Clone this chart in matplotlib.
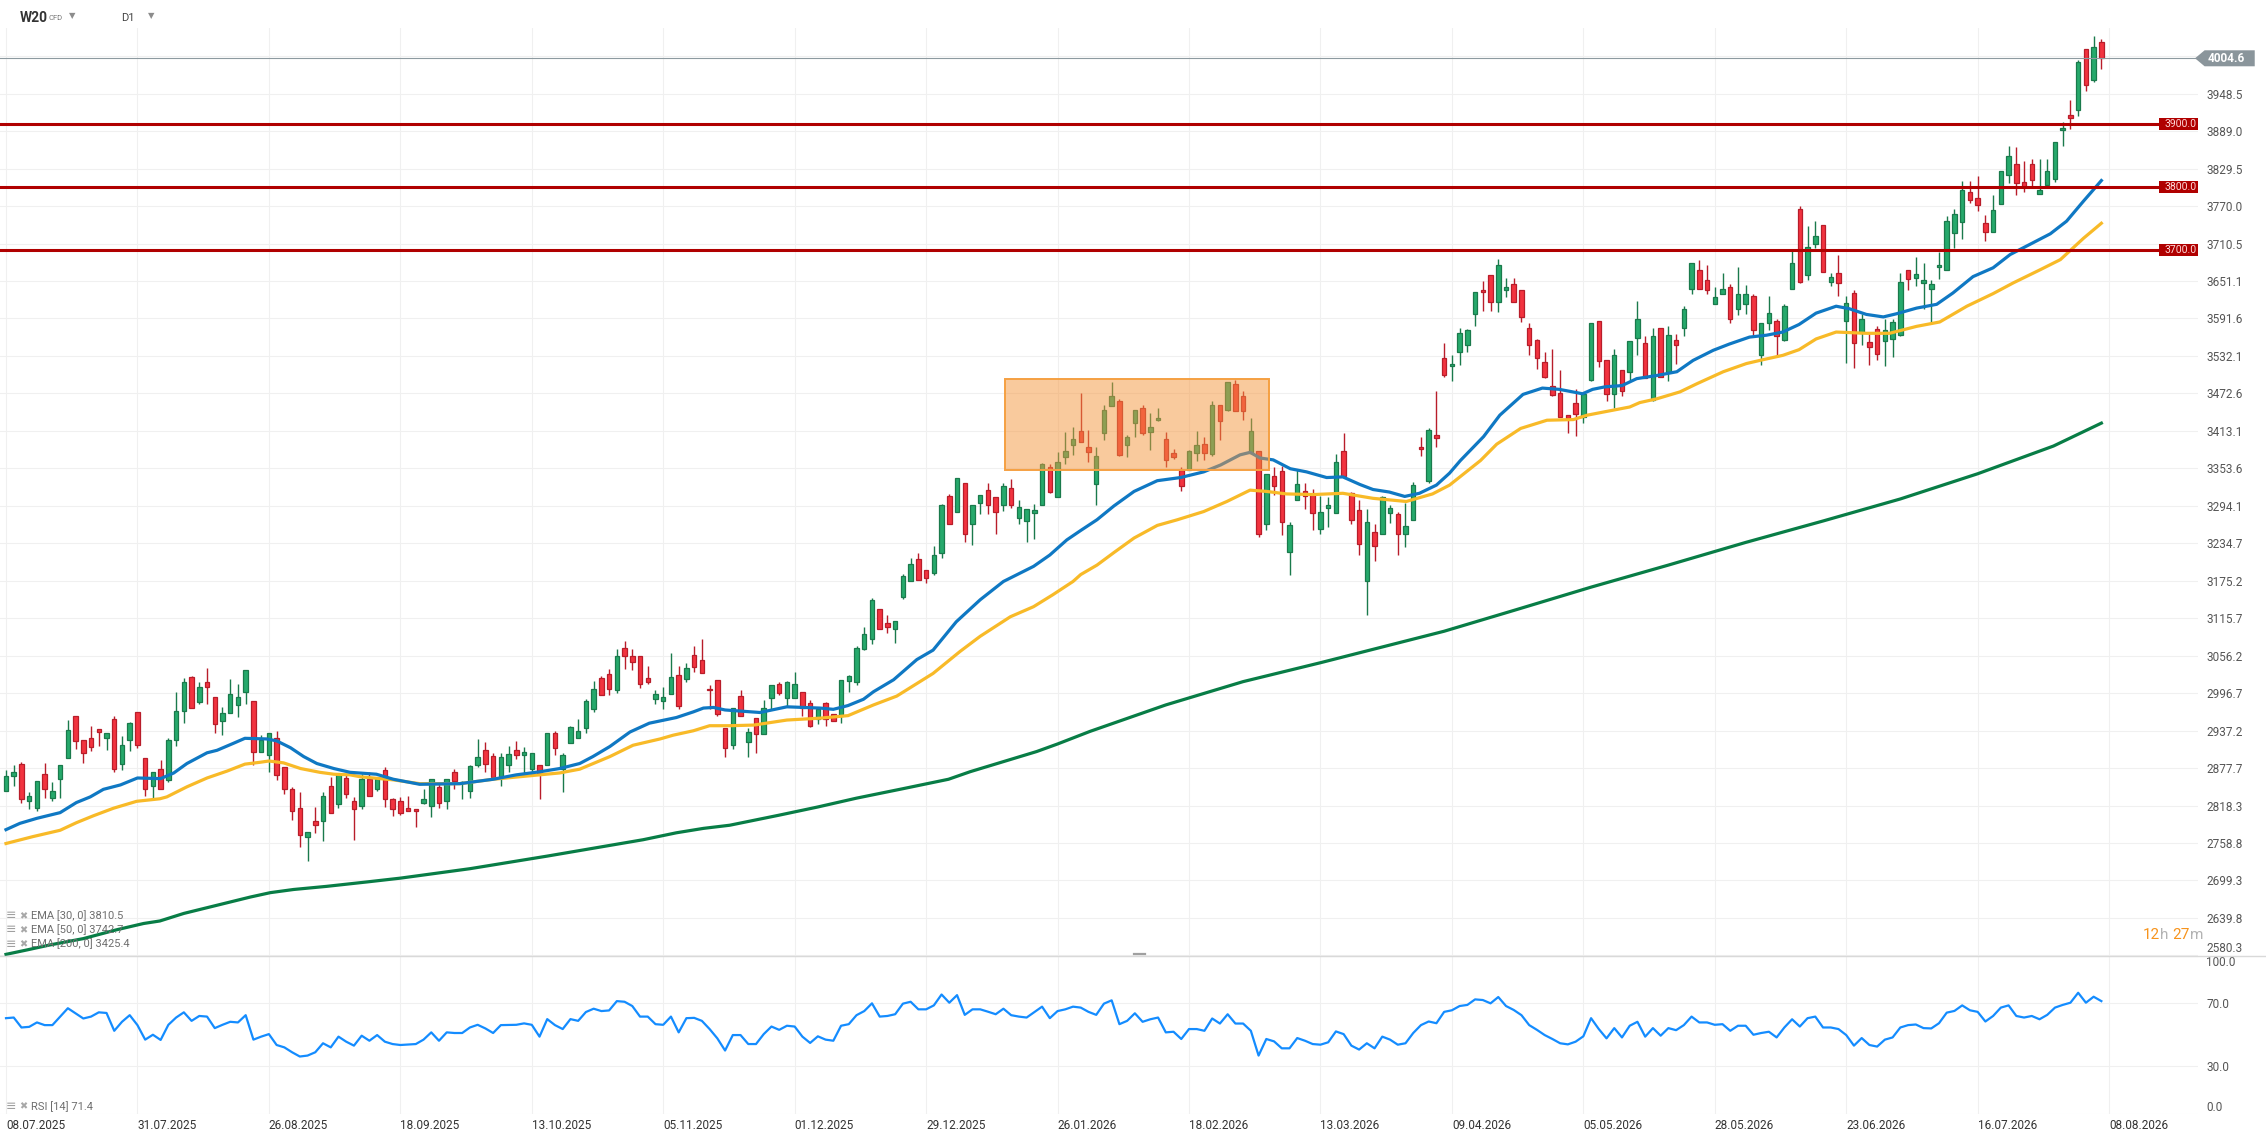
import matplotlib
matplotlib.use("Agg")
import matplotlib.pyplot as plt
import matplotlib.transforms as mtransforms
from matplotlib.patches import Rectangle, Polygon
from matplotlib.lines import Line2D

plt.rcParams['font.family'] = ['Roboto', 'DejaVu Sans']

# daily candles, one per trading day (index 0 = 08.07.2025)
opens = [2842, 2865, 2884, 2825, 2814, 2869, 2830, 2861, 2893, 2960,
         2922, 2926, 2939, 2925, 2955, 2885, 2923, 2966, 2893, 2849,
         2876, 2859, 2923, 2968, 3022, 2983, 3015, 2990, 2952, 2965,
         2978, 2998, 2985, 2904, 2899, 2926, 2879, 2845, 2815, 2769,
         2793, 2794, 2849, 2820, 2862, 2826, 2818, 2861, 2844, 2874,
         2828, 2825, 2815, 2813, 2822, 2818, 2848, 2826, 2872, 2855,
         2842, 2883, 2906, 2897, 2862, 2882, 2907, 2899, 2877, 2882,
         2882, 2933, 2877, 2918, 2925, 2942, 2971, 3020, 3027, 3001,
         3068, 3055, 3055, 3020, 2988, 2985, 2996, 3025, 3019, 3057,
         3049, 3004, 3017, 2941, 2914, 2992, 2919, 2958, 2932, 2989,
         3011, 2989, 2989, 2999, 2981, 2955, 2981, 2963, 2960, 3016,
         3014, 3067, 3082, 3130, 3108, 3098, 3150, 3174, 3209, 3193,
         3187, 3219, 3309, 3284, 3331, 3265, 3298, 3319, 3308, 3295,
         3322, 3274, 3270, 3283, 3296, 3355, 3308, 3371, 3390, 3413,
         3387, 3328, 3409, 3452, 3461, 3390, 3425, 3450, 3412, 3430,
         3400, 3378, 3351, 3351, 3378, 3392, 3377, 3454, 3446, 3488,
         3469, 3378, 3381, 3265, 3341, 3349, 3220, 3304, 3317, 3312,
         3258, 3290, 3282, 3381, 3314, 3287, 3174, 3252, 3249, 3282,
         3281, 3249, 3271, 3387, 3333, 3406, 3528, 3516, 3539, 3550,
         3599, 3636, 3660, 3617, 3637, 3647, 3636, 3576, 3557, 3523,
         3485, 3474, 3439, 3458, 3435, 3494, 3588, 3525, 3472, 3510,
         3506, 3560, 3553, 3462, 3576, 3506, 3557, 3576, 3638, 3669,
         3652, 3614, 3630, 3641, 3607, 3614, 3628, 3534, 3585, 3587,
         3558, 3639, 3766, 3660, 3710, 3740, 3650, 3664, 3587, 3632,
         3568, 3554, 3575, 3555, 3559, 3566, 3669, 3656, 3648, 3638,
         3673, 3668, 3727, 3744, 3792, 3783, 3743, 3729, 3773, 3819,
         3837, 3808, 3837, 3789, 3804, 3813, 3891, 3915, 3923, 4020,
         3970, 4031]
highs = [2875, 2883, 2887, 2840, 2857, 2886, 2856, 2882, 2954, 2960,
         2922, 2944, 2939, 2933, 2960, 2929, 2951, 2966, 2893, 2871,
         2890, 2925, 2998, 3020, 3024, 3014, 3036, 2990, 2974, 3019,
         3011, 3034, 2985, 2930, 2933, 2937, 2879, 2848, 2840, 2777,
         2816, 2840, 2864, 2869, 2869, 2832, 2868, 2872, 2864, 2880,
         2831, 2832, 2833, 2813, 2844, 2860, 2852, 2861, 2877, 2857,
         2882, 2924, 2919, 2901, 2901, 2913, 2921, 2911, 2902, 2882,
         2933, 2936, 2901, 2944, 2956, 2988, 3016, 3024, 3035, 3067,
         3080, 3067, 3055, 3040, 3001, 3006, 3060, 3040, 3045, 3072,
         3083, 3009, 3017, 2941, 2973, 3002, 2941, 2958, 2986, 3009,
         3015, 3016, 3030, 2999, 2986, 2971, 2983, 2963, 3018, 3026,
         3072, 3101, 3148, 3130, 3121, 3112, 3186, 3211, 3219, 3193,
         3230, 3297, 3313, 3338, 3331, 3295, 3311, 3330, 3308, 3330,
         3337, 3304, 3289, 3297, 3362, 3360, 3379, 3411, 3419, 3473,
         3415, 3387, 3454, 3490, 3463, 3406, 3446, 3454, 3441, 3450,
         3411, 3384, 3355, 3383, 3413, 3403, 3461, 3454, 3490, 3494,
         3476, 3434, 3381, 3344, 3356, 3357, 3269, 3351, 3331, 3321,
         3309, 3308, 3376, 3409, 3316, 3303, 3289, 3265, 3309, 3295,
         3285, 3298, 3332, 3403, 3417, 3476, 3552, 3533, 3577, 3575,
         3634, 3651, 3660, 3686, 3655, 3655, 3636, 3584, 3559, 3538,
         3543, 3509, 3439, 3480, 3472, 3584, 3588, 3525, 3543, 3510,
         3555, 3620, 3564, 3576, 3576, 3579, 3567, 3611, 3680, 3684,
         3677, 3642, 3663, 3646, 3674, 3644, 3630, 3584, 3628, 3590,
         3614, 3701, 3770, 3738, 3746, 3740, 3663, 3693, 3627, 3636,
         3598, 3568, 3579, 3591, 3591, 3664, 3669, 3689, 3679, 3652,
         3697, 3755, 3766, 3809, 3810, 3818, 3756, 3788, 3826, 3866,
         3863, 3842, 3844, 3845, 3845, 3872, 3904, 3938, 4002, 4020,
         4040, 4036]
lows = [2842, 2850, 2823, 2812, 2810, 2831, 2826, 2831, 2893, 2908,
        2886, 2905, 2913, 2907, 2872, 2875, 2905, 2910, 2834, 2831,
        2844, 2856, 2913, 2950, 2973, 2980, 2980, 2934, 2931, 2965,
        2959, 2980, 2882, 2904, 2872, 2859, 2836, 2796, 2753, 2731,
        2775, 2762, 2806, 2815, 2830, 2764, 2813, 2834, 2842, 2816,
        2802, 2804, 2809, 2784, 2820, 2800, 2814, 2813, 2844, 2829,
        2830, 2880, 2871, 2860, 2850, 2871, 2892, 2869, 2869, 2829,
        2882, 2898, 2839, 2918, 2925, 2933, 2967, 2993, 2993, 2997,
        3035, 3033, 3005, 3012, 2979, 2972, 2996, 2971, 3015, 3030,
        3028, 2971, 2960, 2896, 2908, 2960, 2896, 2901, 2932, 2971,
        2994, 2975, 2989, 2961, 2943, 2948, 2945, 2952, 2950, 2998,
        3010, 3065, 3074, 3098, 3092, 3077, 3146, 3174, 3176, 3172,
        3184, 3212, 3266, 3284, 3236, 3232, 3281, 3281, 3250, 3286,
        3291, 3266, 3236, 3242, 3296, 3315, 3308, 3361, 3374, 3396,
        3363, 3296, 3399, 3452, 3373, 3372, 3404, 3406, 3383, 3429,
        3355, 3368, 3318, 3351, 3365, 3367, 3373, 3398, 3444, 3444,
        3430, 3378, 3245, 3255, 3311, 3248, 3185, 3304, 3289, 3255,
        3250, 3261, 3282, 3341, 3266, 3216, 3121, 3207, 3249, 3267,
        3216, 3228, 3271, 3373, 3330, 3388, 3499, 3492, 3518, 3538,
        3580, 3604, 3604, 3602, 3626, 3618, 3586, 3534, 3511, 3497,
        3469, 3435, 3409, 3405, 3426, 3492, 3515, 3461, 3450, 3469,
        3494, 3534, 3497, 3461, 3498, 3492, 3520, 3564, 3631, 3638,
        3631, 3614, 3630, 3585, 3597, 3599, 3566, 3518, 3573, 3530,
        3556, 3639, 3648, 3653, 3704, 3665, 3643, 3628, 3521, 3513,
        3550, 3518, 3526, 3516, 3531, 3564, 3636, 3643, 3606, 3582,
        3654, 3668, 3704, 3718, 3775, 3762, 3714, 3729, 3773, 3806,
        3787, 3792, 3801, 3789, 3804, 3808, 3865, 3892, 3913, 3953,
        3967, 3987]
closes = [2865, 2871, 2828, 2834, 2857, 2844, 2842, 2882, 2938, 2920,
          2901, 2911, 2935, 2933, 2876, 2915, 2949, 2915, 2844, 2871,
          2844, 2923, 2968, 3014, 2973, 3006, 3007, 2947, 2965, 2996,
          2990, 3034, 2903, 2922, 2933, 2866, 2844, 2809, 2772, 2777,
          2788, 2834, 2806, 2869, 2836, 2812, 2860, 2834, 2860, 2828,
          2812, 2807, 2810, 2810, 2829, 2860, 2822, 2861, 2857, 2856,
          2881, 2895, 2885, 2864, 2895, 2900, 2899, 2904, 2902, 2868,
          2933, 2909, 2898, 2943, 2936, 2984, 3004, 2993, 3004, 3055,
          3055, 3046, 3012, 3014, 2995, 2990, 3023, 2976, 3036, 3038,
          3028, 3001, 2963, 2910, 2973, 2961, 2935, 2932, 2973, 3009,
          2997, 3014, 3011, 2973, 2944, 2971, 2955, 2952, 3018, 3024,
          3068, 3090, 3144, 3098, 3102, 3112, 3183, 3201, 3176, 3179,
          3216, 3295, 3266, 3338, 3250, 3295, 3311, 3296, 3284, 3325,
          3296, 3292, 3289, 3287, 3360, 3316, 3363, 3381, 3400, 3396,
          3379, 3373, 3447, 3469, 3375, 3404, 3446, 3409, 3420, 3433,
          3367, 3371, 3326, 3381, 3390, 3378, 3454, 3428, 3490, 3444,
          3444, 3413, 3250, 3344, 3326, 3269, 3264, 3328, 3309, 3283,
          3285, 3296, 3363, 3341, 3272, 3233, 3268, 3231, 3308, 3290,
          3250, 3262, 3327, 3384, 3415, 3401, 3502, 3520, 3569, 3573,
          3634, 3633, 3618, 3677, 3642, 3618, 3594, 3549, 3528, 3499,
          3470, 3435, 3433, 3440, 3472, 3584, 3524, 3472, 3533, 3477,
          3555, 3591, 3497, 3564, 3498, 3566, 3549, 3606, 3680, 3638,
          3636, 3626, 3638, 3590, 3631, 3631, 3574, 3584, 3601, 3563,
          3612, 3680, 3649, 3705, 3723, 3665, 3658, 3648, 3616, 3553,
          3591, 3546, 3535, 3573, 3586, 3650, 3654, 3662, 3652, 3647,
          3677, 3747, 3758, 3796, 3779, 3771, 3729, 3764, 3826, 3850,
          3807, 3800, 3811, 3796, 3826, 3872, 3894, 3910, 3999, 3962,
          4023, 4004.6]

# moving averages (bar index, value)
ema30_x = [0, 1.8, 4.0, 7.0, 9.1, 10.9, 12.6, 14.8, 17.0, 20.0, 21.7, 23.4, 26.0, 27.3,
           29.4, 30.9, 33.7, 35.0, 36.8, 38.5, 40.2, 42.4, 44.5, 47.9, 50.1, 53.5, 58.7,
           63.0, 66.0, 69.1, 71.6, 74.2, 75.9, 78.1, 80.7, 83.2, 86.7, 88.9, 90.2, 91.5,
           93.0, 94.1, 97.5, 101.0, 105.3, 107.0, 108.9, 110.9, 112.2, 114.8, 117.8, 119.9,
           122.9, 126.0, 129.0, 132.9, 135.0, 137.2, 139.0, 141.1, 143.3, 145.9, 148.9,
           151.9, 154.9, 157.1, 159.6, 160.9, 162.2, 163.9, 166.1, 168.2, 170.8, 172.9,
           175.1, 176.8, 178.9, 180.9, 182.8, 185.0, 186.7, 188.1, 191.1, 193.2, 196.2,
           198.7, 200.9, 203.9, 205.2, 206.8, 209.0, 210.9, 213.5, 216.1, 218.2, 220.8,
           222.9, 225.5, 227.7, 229.8, 231.9, 234.1, 236.7, 238.4, 240.6, 242.8, 244.5,
           247.1, 249.7, 251.8, 254.4, 257.0, 259.2, 262.2, 264.4, 266.5, 268.7, 271]
ema30_y = [2780, 2790, 2798, 2807, 2823, 2832, 2844, 2851, 2862, 2861, 2870, 2885, 2902, 2906,
           2917, 2925, 2924, 2921, 2910, 2896, 2885, 2877, 2871, 2868, 2860, 2852, 2853,
           2860, 2867, 2872, 2877, 2885, 2896, 2912, 2935, 2949, 2958, 2967, 2973, 2974,
           2970, 2969, 2966, 2975, 2973, 2971, 2977, 2987, 2999, 3018, 3050, 3065,
           3110, 3145, 3174, 3198, 3216, 3240, 3255, 3272, 3294, 3317, 3334,
           3339, 3348, 3359, 3375, 3379, 3370, 3367, 3353, 3348, 3339, 3340,
           3328, 3320, 3316, 3309, 3314, 3327, 3346, 3366, 3404, 3438, 3471,
           3481, 3479, 3472, 3479, 3483, 3485, 3496, 3501, 3507, 3525, 3541,
           3551, 3562, 3565, 3570, 3582, 3600, 3611, 3607, 3598, 3594, 3599,
           3608, 3614, 3632, 3658, 3672, 3693, 3712, 3726, 3746, 3778, 3810.5]
ema50_x = [0, 3.5, 7.0, 9.1, 11.3, 13.9, 16.9, 19.9, 20.8, 23.4, 26.0, 28.6, 30.9, 32.9, 34.0,
           35.9, 38.1, 40.6, 42.4, 44.5, 45.8, 50.1, 53.5, 58.7, 63.0, 67.3, 71.6, 74.2,
           78.1, 81.1, 84.6, 86.3, 88.9, 91.0, 93.6, 96.7, 101.0, 105.3, 108.9, 112.2, 115.2,
           119.9, 123.4, 126.0, 129.9, 132.9, 135.4, 138.0, 139.0, 141.1, 143.3, 145.9, 148.9,
           151.5, 154.9, 157.9, 160.9, 163.0, 165.6, 169.1, 172.9, 176.8, 181.1, 184.5, 186.7,
           190.7, 192.8, 195.9, 199.3, 202.7, 204.5, 206.6, 210.0, 211.3, 213.5, 216.5, 218.7,
           222.1, 225.1, 227.2, 229.8, 231.9, 234.1, 236.7, 240.6, 243.6, 247.1, 250.1, 253.6,
           257.0, 259.6, 263.1, 265.7, 268.7, 271]
ema50_y = [2758, 2769, 2779, 2791, 2802, 2814, 2825, 2829, 2832, 2848, 2862, 2873, 2884, 2887, 2889,
           2886, 2877, 2871, 2868, 2867, 2864, 2859, 2853, 2853, 2860, 2865, 2870, 2876,
           2896, 2914, 2924, 2930, 2937, 2945, 2945, 2946, 2954, 2957, 2961, 2978, 2992,
           3028, 3063, 3087, 3118, 3134, 3153, 3174, 3185, 3200, 3220, 3243, 3263,
           3272, 3285, 3301, 3319, 3317, 3313, 3312, 3314, 3306, 3301, 3313, 3327,
           3366, 3392, 3417, 3430, 3431, 3438, 3443, 3451, 3458, 3464, 3475, 3488,
           3507, 3520, 3526, 3533, 3542, 3559, 3570, 3568, 3568, 3579, 3586, 3611,
           3631, 3648, 3669, 3685, 3719, 3742.7]
ema200_x = [0, 2.7, 5.7, 10.0, 14.3, 17.8, 19.9, 23.0, 27.3, 31.6, 34.2, 37.2, 41.5, 46.7, 51.0,
            60, 70, 82.4, 86.7, 90.2, 93.6, 100, 105, 110, 116, 121.9, 124.7, 129.0, 133.3,
            136.0, 140.2, 150, 160, 170, 178, 186, 195, 205, 215, 225, 235, 245, 255, 264.8, 271]
ema200_y = [2582, 2589, 2597, 2607, 2621, 2631, 2635, 2647, 2660, 2673, 2680, 2685, 2690, 2697, 2703,
            2718, 2738, 2764, 2775, 2782, 2787, 2803, 2816, 2830, 2845, 2860, 2872, 2888, 2904,
            2916, 2936, 2978, 3015, 3045, 3070, 3095, 3128, 3165, 3200, 3236, 3270, 3305, 3345,
            3389, 3425.4]

# RSI(14) (bar index, value)
rsi_bars = [0, 1, 2, 3, 4, 5, 6, 8, 10, 11, 12, 13, 14, 15, 16, 17, 18, 19, 20, 21, 22, 23, 24,
            25, 26, 27, 28, 29, 30, 31, 32, 33, 34, 35, 36, 37, 38, 39, 40, 41, 42, 43, 44, 45,
            46, 47, 48, 49, 50, 51, 53, 54, 55, 56, 57, 58, 59, 60, 61, 62, 63, 64, 66, 67, 68,
            69, 70, 71, 72, 73, 74, 75, 76, 77, 78, 79, 80, 81, 82, 83, 84, 85, 86, 87, 88, 89,
            90, 91, 92, 93, 94, 95, 96, 97, 98, 99, 100, 101, 102, 103, 104, 105, 106, 107, 108,
            109, 110, 111, 112, 113, 114, 115, 116, 117, 118, 119, 120, 121, 122, 123, 124, 125,
            126, 127, 128, 129, 130, 131, 132, 134, 135, 136, 137, 138, 139, 140, 141, 142, 143,
            144, 145, 146, 147, 148, 149, 150, 151, 152, 153, 154, 155, 156, 157, 158, 159, 160,
            161, 162, 163, 164, 165, 166, 167, 168, 169, 170, 171, 172, 173, 174, 175, 176, 177,
            178, 179, 180, 181, 182, 183, 184, 185, 186, 187, 188, 189, 190, 191, 192, 193, 194,
            195, 196, 197, 198, 199, 200, 201, 202, 203, 204, 205, 206, 207, 208, 209, 210, 211,
            212, 213, 214, 215, 216, 217, 218, 219, 220, 221, 222, 223, 224, 225, 226, 227, 228,
            229, 230, 231, 232, 233, 234, 235, 236, 237, 238, 239, 240, 241, 242, 243, 244, 245,
            246, 247, 248, 249, 250, 251, 252, 253, 254, 255, 256, 257, 258, 259, 260, 261, 262,
            263, 264, 265, 266, 267, 268, 269, 270, 271]
rsi_vals = [60.6, 61.0, 54.7, 55.1, 57.9, 56.2, 56.2, 66.9, 60.4, 61.6, 64.3, 63.9, 52.6, 58.3, 62.5,
            56.2, 47.0, 50.1, 46.8, 56.4, 61.0, 64.3, 58.9, 62.0, 61.6, 54.3, 56.4, 58.3, 57.9,
            62.5, 47.0, 48.9, 50.5, 43.6, 42.1, 39.0, 36.3, 36.9, 39.0, 44.7, 42.1, 48.9, 45.7,
            43.2, 49.5, 46.3, 49.9, 45.7, 44.2, 43.6, 44.2, 47.0, 51.6, 46.3, 51.6, 51.2, 51.2,
            54.7, 56.4, 54.1, 51.2, 56.2, 56.4, 57.3, 56.4, 48.9, 60.0, 56.2, 53.7, 60.0, 58.9,
            64.5, 66.6, 65.1, 65.5, 71.4, 71.0, 68.3, 61.6, 61.6, 56.8, 56.4, 61.6, 51.6, 60.6,
            60.8, 58.9, 53.7, 47.8, 40.1, 49.9, 49.9, 44.2, 44.2, 50.5, 55.3, 53.2, 55.8, 55.3,
            48.9, 44.9, 49.1, 47.0, 46.3, 55.8, 56.8, 62.5, 65.1, 70.0, 61.6, 62.0, 63.1, 69.8,
            71.0, 66.2, 66.2, 68.7, 75.6, 70.4, 75.2, 62.7, 66.2, 66.2, 64.7, 63.1, 66.6, 62.5,
            61.6, 61.0, 67.9, 60.6, 65.1, 66.2, 67.9, 67.3, 64.6, 62.7, 69.8, 71.9, 56.8, 58.9,
            63.7, 58.3, 59.9, 61.0, 51.6, 52.0, 47.4, 53.7, 53.7, 52.6, 60.4, 57.2, 63.1, 57.2,
            57.2, 52.6, 36.9, 47.4, 45.9, 41.5, 41.5, 48.0, 46.3, 44.2, 43.8, 45.3, 52.2, 50.5,
            43.2, 40.7, 44.7, 41.5, 48.9, 47.0, 43.8, 44.7, 51.2, 56.2, 58.5, 57.4, 64.6, 65.6,
            68.3, 69.0, 72.5, 72.1, 70.0, 74.0, 68.3, 65.8, 62.5, 56.2, 53.2, 49.9, 47.4, 44.7,
            44.0, 45.7, 49.1, 60.6, 53.7, 47.8, 54.3, 48.4, 55.8, 58.3, 48.9, 54.3, 49.5, 54.3,
            53.0, 56.2, 61.6, 57.9, 57.9, 56.4, 56.8, 52.6, 55.8, 55.8, 50.1, 51.2, 52.0, 48.4,
            54.7, 59.9, 55.3, 60.6, 61.6, 54.7, 54.7, 53.7, 49.9, 43.2, 48.0, 43.6, 42.6, 47.0,
            48.4, 54.7, 56.2, 56.6, 54.3, 54.1, 57.4, 64.1, 65.2, 68.7, 65.6, 64.6, 58.5, 62.0,
            67.3, 68.7, 62.0, 61.0, 62.0, 59.9, 62.7, 67.3, 69.0, 70.4, 76.7, 70.4, 74.2, 71.4]

date_labels = ['08.07.2025', '31.07.2025', '26.08.2025', '18.09.2025', '13.10.2025',
               '05.11.2025', '01.12.2025', '29.12.2025', '26.01.2026', '18.02.2026',
               '13.03.2026', '09.04.2026', '05.05.2026', '28.05.2026', '23.06.2026',
               '16.07.2026', '08.08.2026']
date_bars = [17 * i for i in range(len(date_labels))]

price_labels = ['2580.3', '2639.8', '2699.3', '2758.8', '2818.3', '2877.7', '2937.2',
                '2996.7', '3056.2', '3115.7', '3175.2', '3234.7', '3294.1', '3353.6',
                '3413.1', '3472.6', '3532.1', '3591.6', '3651.1', '3710.5', '3770.0',
                '3829.5', '3889.0', '3948.5', '']
price_ticks = [2580.3, 2639.8, 2699.3, 2758.8, 2818.3, 2877.7, 2937.2, 2996.7, 3056.2,
               3115.7, 3175.2, 3234.7, 3294.1, 3353.6, 3413.1, 3472.6, 3532.1, 3591.6,
               3651.1, 3710.5, 3770.0, 3829.5, 3889.0, 3948.5, 4008.0]
levels = [3700.0, 3800.0, 3900.0]
zone_bars = (129.2, 163.3)
zone_prices = (3351.0, 3495.0)
rsi_ticks = [0, 30, 70, 100]
rsi_tick_labels = ['0.0', '30.0', '70.0', '100.0']

GREEN, GREEN_EDGE = '#26a96c', '#1a7a4c'
RED, RED_EDGE = '#f2333f', '#b81d2a'
GRID = '#f0f0f0'
LABEL = '#555555'

fig = plt.figure(figsize=(22.66, 11.39), dpi=100)
ax = fig.add_axes([0, 0.16067, 0.97, 0.81475])
ax_rsi = fig.add_axes([0, 0.02212, 0.97, 0.13855])

for a in (ax, ax_rsi):
    for s in a.spines.values():
        s.set_visible(False)
    a.set_xlim(-0.776, 283.5)
    a.set_xticks(date_bars)
    a.grid(True, color=GRID, linewidth=0.8)
    a.set_axisbelow(True)
    a.yaxis.tick_right()
    a.tick_params(length=0, labelsize=8.5, labelcolor=LABEL, pad=5.8)

# candles
x = list(range(len(closes)))
up = [c >= o for o, c in zip(opens, closes)]
edge_cols = [GREEN_EDGE if u else RED_EDGE for u in up]
face_cols = [GREEN if u else RED for u in up]
ax.vlines(x, lows, highs, colors=edge_cols, linewidth=1.0, zorder=2)
ax.bar(x, [abs(c - o) for o, c in zip(opens, closes)],
       bottom=[min(o, c) for o, c in zip(opens, closes)], width=0.58,
       color=face_cols, edgecolor=edge_cols, linewidth=0.9, zorder=3)

ax.plot(ema200_x, ema200_y, color='#087d46', linewidth=2.3, zorder=4)
ax.plot(ema50_x, ema50_y, color='#f8ba28', linewidth=2.3, zorder=4)
ax.plot(ema30_x, ema30_y, color='#0f78c3', linewidth=2.3, zorder=4)

blend = mtransforms.blended_transform_factory(ax.transAxes, ax.transData)
for lv in levels:
    ax.axhline(lv, color='#b00000', linewidth=2.2, zorder=4)
    ax.add_patch(Rectangle((0.9823, lv - 10), 0.0177, 20, transform=blend,
                           facecolor='#b00000', edgecolor='none', zorder=7))
    ax.text(0.9848, lv, f'{lv:.1f}', transform=blend, ha='left', va='center',
            fontsize=7.5, color='#ffd9d9', zorder=8, clip_on=True)

# highlighted consolidation zone
ax.add_patch(Rectangle((zone_bars[0], zone_prices[0]), zone_bars[1] - zone_bars[0],
                       zone_prices[1] - zone_prices[0], facecolor='#f5963c', alpha=0.5,
                       edgecolor='none', zorder=6))
ax.add_patch(Rectangle((zone_bars[0], zone_prices[0]), zone_bars[1] - zone_bars[0],
                       zone_prices[1] - zone_prices[0], facecolor='none',
                       edgecolor='#f5a042', linewidth=1.4, zorder=6))

# last price line and label
last = closes[-1]
ax.axhline(last, color='#8d9aa0', linewidth=0.8, zorder=4)
ax.add_patch(Polygon([(0.99864, last), (1.0030, last + 12.7), (1.0258, last + 12.7),
                      (1.0258, last - 12.7), (1.0030, last - 12.7)], closed=True,
                     transform=blend, facecolor='#8a959b', edgecolor='none',
                     clip_on=False, zorder=8))
ax.text(1.0042, last, f'{last:.1f}', transform=blend, ha='left', va='center',
        fontsize=8.5, color='white', fontweight='bold', clip_on=False, zorder=9)

ax.set_ylim(2579.4, 4052.7)
ax.set_yticks(price_ticks)
ax.set_yticklabels(price_labels)
ax.get_yticklabels()[0].set_va('bottom')
ax.tick_params(axis='x', labelbottom=False)

# countdown text
for txt, off, col in [('12', 0, '#f7941d'), ('h', 12.4, '#b3b3b3'),
                      ('27', 21.2, '#f7941d'), ('m', 33.6, '#b3b3b3')]:
    ax.annotate(txt, xy=(0.975, 0.0226), xycoords='axes fraction',
                xytext=(off, 0), textcoords='offset points', ha='left', va='center',
                fontsize=11, color=col, annotation_clip=False)

# RSI panel
ax_rsi.plot(rsi_bars, rsi_vals, color='#148cff', linewidth=1.6)
ax_rsi.set_ylim(0, 99.1)
ax_rsi.set_yticks(rsi_ticks)
ax_rsi.set_yticklabels(rsi_tick_labels)
ax_rsi.get_yticklabels()[0].set_va('bottom')
ax_rsi.get_yticklabels()[-1].set_va('top')
ax_rsi.set_xticklabels(date_labels)
ax_rsi.tick_params(axis='x', labelcolor='#333333', pad=4)
for lab in ax_rsi.get_xticklabels():
    lab.set_ha('left')

# panel separator and drag handle
fig.add_artist(Line2D([0, 1], [0.16067, 0.16067], color='#d9d9d9', linewidth=1.0))
fig.add_artist(Line2D([0.5004, 0.5053], [0.1624, 0.1624], color='#a0a0a0', linewidth=1.6))

# indicator legend
legend_rows = [('EMA [30, 0] 3810.5', 0.1958), ('EMA [50, 0] 3742.7', 0.1835),
               ('EMA [200, 0] 3425.4', 0.1712), ('RSI [14] 71.4', 0.0284)]
for txt, yy in legend_rows:
    fig.text(0.0026, yy, '\u2261', fontsize=9, color='#a0a0a0', va='center',
             family=['DejaVu Sans'])
    fig.text(0.0084, yy, '\u2716', fontsize=7, color='#a8a8a8', va='center',
             family=['DejaVu Sans'])
    fig.text(0.0137, yy, txt, fontsize=8, color='#6e6e6e', va='center')

# header
fig.text(0.0088, 0.9842, 'W20', fontsize=10, fontweight='bold', color='#333333', va='center')
fig.text(0.0212, 0.9842, 'CFD', fontsize=5.5, color='#777777', va='center')
fig.text(0.0320, 0.9868, '\u25bc', fontsize=6, color='#8c8c8c', va='center', ha='center',
         family=['DejaVu Sans'])
fig.text(0.0534, 0.9842, 'D1', fontsize=8, color='#444444', va='center')
fig.text(0.0666, 0.9868, '\u25bc', fontsize=6, color='#8c8c8c', va='center', ha='center',
         family=['DejaVu Sans'])

fig.savefig('out.png', dpi=100)
